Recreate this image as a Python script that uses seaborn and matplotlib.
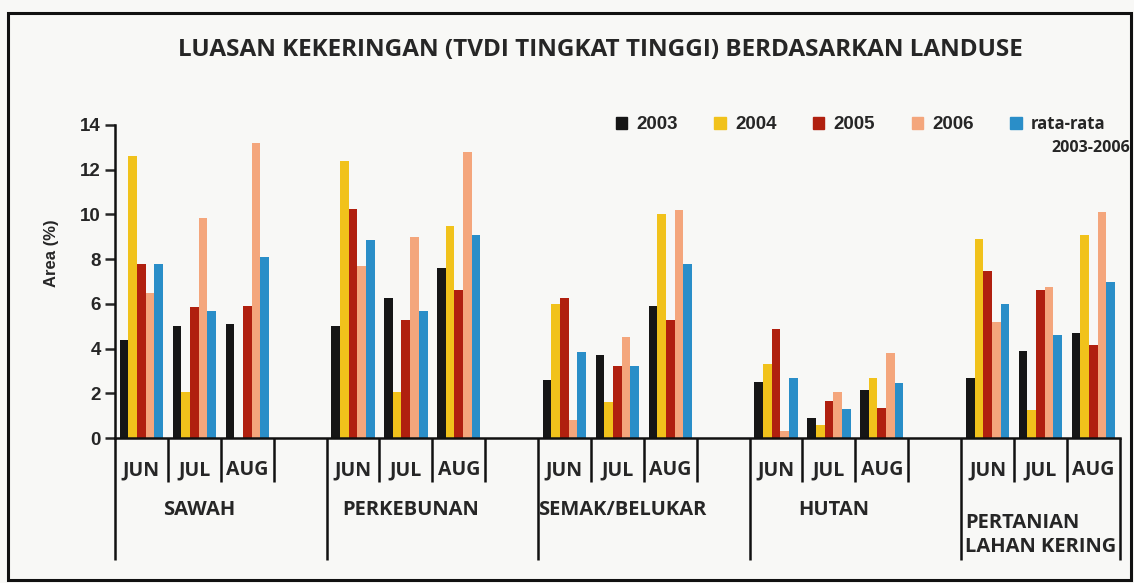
import matplotlib.pyplot as plt
import matplotlib.patches as mpatches
import matplotlib.transforms as mtransforms
import numpy as np
import pandas as pd
import seaborn as sns

landuse = ["SAWAH", "PERKEBUNAN", "SEMAK/BELUKAR", "HUTAN", "PERTANIAN\nLAHAN KERING"]
months = ["JUN", "JUL", "AUG"]
series = ["2003", "2004", "2005", "2006", "rata-rata"]

# nilai per landuse, urutan JUN, JUL, AUG
v2003 = [[4.4, 5.0, 5.1], [5.0, 6.25, 7.6], [2.6, 3.7, 5.9], [2.5, 0.9, 2.15], [2.7, 3.9, 4.7]]
v2004 = [[12.6, 2.05, 0.0], [12.4, 2.05, 9.5], [6.0, 1.6, 10.0], [3.3, 0.6, 2.7], [8.9, 1.25, 9.1]]
v2005 = [[7.8, 5.85, 5.9], [10.25, 5.3, 6.6], [6.25, 3.2, 5.3], [4.87, 1.65, 1.35], [7.45, 6.6, 4.15]]
v2006 = [[6.5, 9.85, 13.2], [7.7, 9.0, 12.8], [0.8, 4.5, 10.2], [0.3, 2.07, 3.8], [5.2, 6.75, 10.1]]
vavg = [[7.8, 5.7, 8.1], [8.85, 5.7, 9.1], [3.85, 3.2, 7.8], [2.7, 1.3, 2.45], [6.0, 4.6, 6.97]]

colors = ["#161616", "#f1c21b", "#b0200f", "#f4a67c", "#2a8ec8"]

rows = []
for name, vals in zip(series, [v2003, v2004, v2005, v2006, vavg]):
    for g in range(len(landuse)):
        for m in range(len(months)):
            rows.append({"pos": 4 * g + m, "value": vals[g][m], "series": name})
df = pd.DataFrame(rows)

sns.set_style("white")
plt.rcParams["font.family"] = ["Open Sans", "DejaVu Sans"]

fig = plt.figure(figsize=(11.34, 5.83), dpi=100, facecolor="#f8f8f6")
ax = fig.add_axes([0.1014, 0.2487, 0.886, 0.5369])
ax.set_facecolor("none")

sns.barplot(data=df, x="pos", y="value", hue="series", hue_order=series,
            palette=colors, native_scale=True, width=0.82, saturation=1,
            linewidth=0, legend=False, ax=ax)

ax.set_xlim(-0.5, 18.5)
ax.set_ylim(0, 14)
ax.set_yticks(np.arange(0, 15, 2))
ax.tick_params(axis="y", direction="out", length=7, width=1.8, pad=3,
               labelsize=13.5, left=True)
for t in ax.get_yticklabels():
    t.set_fontfamily("Liberation Sans")
    t.set_fontweight("bold")

month_pos = sorted(df["pos"].unique())
ax.set_xticks(month_pos)
ax.set_xticklabels(months * len(landuse), fontsize=14, fontweight="bold")
ax.tick_params(axis="x", length=0, pad=16)
ax.set_xlabel("")
ax.set_ylabel("Area (%)", fontsize=12, fontweight="bold",
              fontfamily="Liberation Sans")
ax.yaxis.set_label_coords(-0.056, 0.59)

for s in ["top", "right"]:
    ax.spines[s].set_visible(False)
for s in ["left", "bottom"]:
    ax.spines[s].set_linewidth(1.8)
    ax.spines[s].set_color("#111111")

# garis pemisah kategori di bawah sumbu
trans = mtransforms.blended_transform_factory(ax.transData, ax.transAxes)
for b in np.arange(-0.5, 18.6, 1.0):
    long_line = (b + 0.5) % 4 == 0 or b == 18.5
    y_end = -0.39 if long_line else -0.14
    ax.plot([b, b], [0, y_end], color="#111111", lw=1.8, transform=trans,
            clip_on=False, solid_capstyle="butt")

for g, name in enumerate(landuse):
    last = g == len(landuse) - 1
    ax.text(4 * g + (1.0 if last else 1.1), -0.31 if last else -0.23, name,
            transform=trans, ha="center", va="center", multialignment="left",
            fontsize=14.5, fontweight="bold", linespacing=1.3)

fig.text(0.529, 0.914, "LUASAN KEKERINGAN (TVDI TINGKAT TINGGI) BERDASARKAN LANDUSE",
         ha="center", va="center", fontsize=17.5, fontweight="bold")

handles = [mpatches.Patch(color=c, label=l) for c, l in zip(colors, series)]
leg = fig.legend(handles=handles, loc="center left", bbox_to_anchor=(0.528, 0.787),
                 ncol=5, frameon=False, handlelength=0.6, handleheight=0.6,
                 handletextpad=0.5, columnspacing=1.95,
                 prop={"family": "Liberation Sans", "weight": "bold", "size": 13.5})
leg.get_texts()[4].set_fontfamily("Open Sans")
leg.get_texts()[4].set_fontsize(12)
fig.text(0.997, 0.746, "2003-2006", ha="right", va="center",
         fontsize=11.5, fontweight="bold")

fig.add_artist(mpatches.Rectangle((8 / 1134, 3 / 583), 1123 / 1134, 567 / 583,
                                  transform=fig.transFigure, fill=False,
                                  lw=2.2, edgecolor="#111111"))

fig.savefig("out.png", dpi=100, facecolor=fig.get_facecolor())
